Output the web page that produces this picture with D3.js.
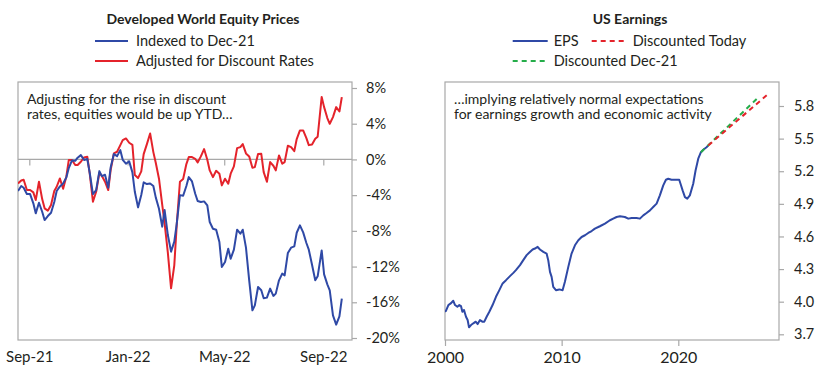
<!DOCTYPE html>
<html>
<head>
<meta charset="utf-8">
<script src="https://cdn.jsdelivr.net/npm/d3@7"></script>
<style>
  html, body { margin: 0; padding: 0; background: #fff; }
  svg { display: block; font-family: Lato, "Open Sans", sans-serif; }
  .axis text { fill: #231f20; }
</style>
</head>
<body>
<svg id="chart" width="840" height="377"></svg>
<script>
// ---------------- Left panel data: Developed World Equity Prices ----------------
const equityDates = [
  "2021-08-18","2021-08-22","2021-08-25","2021-08-29","2021-09-02","2021-09-06","2021-09-09","2021-09-13",
  "2021-09-17","2021-09-20","2021-09-24","2021-09-28","2021-10-02","2021-10-05","2021-10-09","2021-10-13",
  "2021-10-17","2021-10-20","2021-10-24","2021-10-28","2021-10-31","2021-11-04","2021-11-08","2021-11-12",
  "2021-11-15","2021-11-19","2021-11-23","2021-11-27","2021-11-30","2021-12-04","2021-12-08","2021-12-11",
  "2021-12-15","2021-12-19","2021-12-23","2021-12-26","2021-12-30","2022-01-03","2022-01-07","2022-01-10",
  "2022-01-14","2022-01-18","2022-01-21","2022-01-25","2022-01-29","2022-02-02","2022-02-05","2022-02-09",
  "2022-02-13","2022-02-16","2022-02-20","2022-02-24","2022-02-28","2022-03-03","2022-03-07","2022-03-11",
  "2022-03-15","2022-03-18","2022-03-22","2022-03-26","2022-03-29","2022-04-02","2022-04-06","2022-04-10",
  "2022-04-13","2022-04-17","2022-04-21","2022-04-25","2022-04-28","2022-05-02","2022-05-06","2022-05-09",
  "2022-05-13","2022-05-17","2022-05-21","2022-05-24","2022-05-28","2022-06-01","2022-06-05","2022-06-08",
  "2022-06-12","2022-06-16","2022-06-19","2022-06-23","2022-06-27","2022-07-01","2022-07-04","2022-07-08",
  "2022-07-12","2022-07-15","2022-07-19","2022-07-23","2022-07-27","2022-07-30","2022-08-03","2022-08-07",
  "2022-08-11","2022-08-14","2022-08-18","2022-08-22","2022-08-25","2022-08-30","2022-09-02","2022-09-06",
  "2022-09-09","2022-09-13","2022-09-17","2022-09-21","2022-09-24"
];
const indexedToDec21 = [
  -3.54,-2.98,-3.17,-3.88,-3.88,-4.92,-6.04,-4.85,
  -5.86,-6.79,-6.34,-5.97,-4.77,-3.54,-3.02,-2.69,
  -2.01,-0.97,-0.11,-0.15,0.19,0.48,-0.07,0.04,
  -1.49,-3.88,-3.43,-1.31,-1.87,-1.72,-3.17,-0.90,
  0.60,0.37,1.04,-0.04,-0.48,-0.22,-1.45,-3.62,
  -5.37,-3.99,-2.57,-2.76,-2.69,-2.98,-4.25,-5.52,
  -7.53,-5.67,-8.47,-10.33,-9.21,-7.24,-4.00,-4.07,
  -2.98,-1.98,-2.46,-3.84,-4.66,-4.77,-4.70,-5.15,
  -7.01,-7.76,-7.87,-9.25,-12.05,-11.49,-10.00,-11.12,
  -10.11,-7.87,-8.32,-7.87,-9.88,-13.54,-16.90,-16.34,
  -14.29,-14.66,-15.55,-15.48,-14.47,-15.29,-15.03,-13.54,
  -12.79,-12.98,-10.48,-9.88,-9.74,-8.21,-7.39,-8.17,
  -9.36,-10.11,-11.79,-13.54,-13.09,-10.20,-12.87,-13.99,
  -14.66,-17.46,-18.50,-17.57,-15.59
];
const adjustedForDiscount = [
  -2.69,-2.35,-2.28,-3.43,-3.43,-3.69,-4.55,-2.50,
  -4.44,-5.48,-5.74,-5.11,-3.54,-3.06,-2.13,-3.28,
  -1.90,-0.07,-0.07,-0.63,-0.63,-0.26,0.22,0.30,
  -1.57,-4.74,-3.62,-1.49,-1.83,-2.50,-3.43,-1.19,
  0.67,0.86,1.60,2.16,2.35,1.87,1.64,-1.75,
  -2.09,-1.34,0.60,1.72,2.91,0.82,-0.37,-2.16,
  -5.07,-7.16,-10.44,-14.44,-11.86,-7.39,-2.50,-2.20,
  -0.52,0.26,0.26,0.07,-0.34,0.34,1.16,-0.04,
  -1.23,-1.98,-1.27,-1.60,-2.91,-2.16,-2.72,-1.60,
  -0.78,1.27,1.38,1.72,0.67,0.34,-0.93,-0.86,
  0.60,0.63,-1.42,-2.50,-0.30,-0.71,-1.23,0.45,
  -0.48,-0.30,1.53,1.38,0.93,2.28,3.25,3.25,
  2.39,1.60,1.68,2.31,2.54,7.00,5.86,4.63,
  3.99,4.74,5.86,5.37,6.98
];
const leftYTicks = [8, 4, 0, -4, -8, -12, -16, -20];
const leftXTicks = ["2021-09-01", "2022-01-01", "2022-05-01", "2022-09-01"];

// ---------------- Right panel data: US Earnings ----------------
const epsYears = [
  2000.00,2000.09,2000.29,2000.49,2000.71,2000.86,2001.06,2001.23,2001.37,2001.49,2001.63,2001.80,2001.94,
  2002.06,2002.23,2002.43,2002.63,2002.80,2003.00,2003.20,2003.37,2003.57,2003.80,2004.08,2004.37,2004.66,
  2004.94,2005.23,2005.57,2005.86,2006.08,2006.43,2006.71,2007.00,2007.23,2007.51,2007.71,2007.94,2008.14,
  2008.43,2008.71,2008.85,2009.00,2009.14,2009.28,2009.51,2009.80,2010.08,2010.28,2010.57,2010.85,2011.14,
  2011.43,2011.71,2012.00,2012.28,2012.57,2012.85,2013.28,2013.71,2014.14,2014.42,2014.71,2015.00,2015.42,
  2015.71,2016.00,2016.42,2016.71,2017.00,2017.28,2017.57,2017.85,2018.14,2018.42,2018.71,2018.94,2019.14,
  2019.42,2019.71,2020.08,2020.19,2020.37,2020.57,2020.77,2020.99,2021.28,2021.48,2021.71,2021.94,2022.14,
  2022.42,2022.57
];
const epsValues = [
  3.907,3.917,3.969,3.984,4.008,3.969,3.953,3.969,3.960,3.907,3.923,3.861,3.831,
  3.764,3.785,3.801,3.816,3.794,3.831,3.816,3.816,3.861,3.907,3.969,4.045,4.106,
  4.168,4.198,4.235,4.265,4.290,4.336,4.382,4.428,4.452,4.480,4.489,4.504,4.480,
  4.458,4.443,4.382,4.274,4.228,4.137,4.106,4.113,4.106,4.183,4.320,4.443,4.519,
  4.565,4.595,4.611,4.632,4.650,4.672,4.694,4.718,4.749,4.764,4.779,4.785,4.779,
  4.764,4.770,4.770,4.764,4.794,4.816,4.840,4.871,4.902,4.978,5.070,5.122,5.131,
  5.122,5.122,5.122,5.085,5.024,4.962,4.948,4.978,5.085,5.207,5.315,5.375,5.397,
  5.421,5.437
];
const discountedTodayYears = [2022.57, 2027.71];
const discountedTodayValues = [5.437, 5.911];
const discountedDec21Years = [2021.94, 2026.93];
const discountedDec21Values = [5.375, 5.886];
const rightYTicks = [3.7, 4.0, 4.3, 4.6, 4.9, 5.2, 5.5, 5.8];
const rightXTicks = [2000, 2010, 2020];

// ---------------- Styles ----------------
const BLUE = "#2f49a6", RED = "#e4232b", GREEN = "#25ad4a";
const FRAME = "#a8a8a8", TEXT = "#231f20";

const svg = d3.select("#chart");
const parse = d3.utcParse("%Y-%m-%d");

// ================= LEFT PANEL =================
const L = { x0: 18, x1: 352, y0: 82, y1: 340 };
const xL = d3.scaleUtc()
  .domain([parse("2021-09-01"), parse("2022-09-01")])
  .range([29.3, 323.3]);
const yL = d3.scaleLinear().domain([-20, 8]).range([338, 88]);

svg.append("clipPath").attr("id", "clipL").append("rect")
  .attr("x", L.x0).attr("y", L.y0).attr("width", L.x1 - L.x0).attr("height", L.y1 - L.y0);

svg.append("rect").attr("x", L.x0).attr("y", L.y0)
  .attr("width", L.x1 - L.x0).attr("height", L.y1 - L.y0)
  .attr("fill", "none").attr("stroke", FRAME).attr("stroke-width", 1.2);

// zero line
svg.append("line").attr("x1", L.x0).attr("x2", L.x1)
  .attr("y1", yL(0)).attr("y2", yL(0))
  .attr("stroke", FRAME).attr("stroke-width", 1.2);

// x ticks on zero line
const xTickAxisL = d3.axisBottom(xL).tickValues(leftXTicks.map(parse)).tickSize(6).tickFormat("");
const gxt = svg.append("g").attr("class", "axis").attr("transform", `translate(0,${yL(0)})`).call(xTickAxisL);
gxt.select(".domain").remove();
gxt.selectAll("line").attr("stroke", FRAME).attr("stroke-width", 1.2);

// x labels at bottom
const xLabAxisL = d3.axisBottom(xL).tickValues(leftXTicks.map(parse)).tickSize(0).tickPadding(11)
  .tickFormat(d3.utcFormat("%b-%y"));
const gxl = svg.append("g").attr("class", "axis").attr("transform", `translate(0,${L.y1})`).call(xLabAxisL);
gxl.select(".domain").remove();
gxl.selectAll("text").attr("font-size", 15).attr("font-family", "Lato").attr("fill", TEXT);

// y axis right
const yAxL = d3.axisRight(yL).tickValues(leftYTicks).tickSize(5).tickPadding(9).tickFormat(d => d + "%");
const gyl = svg.append("g").attr("class", "axis").attr("transform", `translate(${L.x1},0)`).call(yAxL);
gyl.select(".domain").remove();
gyl.selectAll("line").attr("stroke", FRAME).attr("stroke-width", 1.2);
gyl.selectAll("text").attr("font-size", 14.5).attr("font-family", "Lato").attr("fill", TEXT);

const lineL = (vals) => d3.line()
  .x((d, i) => xL(parse(equityDates[i])))
  .y(d => yL(d))(vals);

const gLinesL = svg.append("g").attr("clip-path", "url(#clipL)");
gLinesL.append("path").attr("d", lineL(adjustedForDiscount))
  .attr("fill", "none").attr("stroke", RED).attr("stroke-width", 2).attr("stroke-linejoin", "round");
gLinesL.append("path").attr("d", lineL(indexedToDec21))
  .attr("fill", "none").attr("stroke", BLUE).attr("stroke-width", 2).attr("stroke-linejoin", "round");

// annotation
const annL = svg.append("text").attr("font-size", 14).attr("fill", TEXT).attr("font-family", "Lato");
annL.append("tspan").attr("x", 27).attr("y", 104).text("Adjusting for the rise in discount");
annL.append("tspan").attr("x", 27).attr("y", 119).text("rates, equities would be up YTD…");

// title + legend
svg.append("text").attr("x", 203).attr("y", 24).attr("text-anchor", "middle")
  .attr("font-size", 14).attr("font-weight", "bold").attr("fill", TEXT).text("Developed World Equity Prices");
const legL = [
  { label: "Indexed to Dec-21", color: BLUE, y: 41 },
  { label: "Adjusted for Discount Rates", color: RED, y: 61 }
];
legL.forEach(l => {
  svg.append("line").attr("x1", 95).attr("x2", 128).attr("y1", l.y).attr("y2", l.y)
    .attr("stroke", l.color).attr("stroke-width", 2);
  svg.append("text").attr("x", 136).attr("y", l.y + 4.5).attr("font-size", 14.5)
    .attr("fill", TEXT).text(l.label);
});

// ================= RIGHT PANEL =================
const R = { x0: 445, x1: 779, y0: 82, y1: 340 };
const xR = d3.scaleLinear().domain([2000, 2020]).range([445, 678.3]);
const yR = d3.scaleLinear().domain([3.7, 5.8]).range([334.3, 106]);

svg.append("clipPath").attr("id", "clipR").append("rect")
  .attr("x", R.x0).attr("y", R.y0).attr("width", R.x1 - R.x0).attr("height", R.y1 - R.y0);

svg.append("rect").attr("x", R.x0).attr("y", R.y0)
  .attr("width", R.x1 - R.x0).attr("height", R.y1 - R.y0)
  .attr("fill", "none").attr("stroke", FRAME).attr("stroke-width", 1.2);

const xAxR = d3.axisBottom(xR).tickValues(rightXTicks).tickSize(6).tickPadding(6).tickFormat(d3.format("d"));
const gxr = svg.append("g").attr("class", "axis").attr("transform", `translate(0,${R.y1})`).call(xAxR);
gxr.select(".domain").remove();
gxr.selectAll("line").attr("stroke", FRAME).attr("stroke-width", 1.2);
gxr.selectAll("text").attr("font-size", 16).attr("font-family", "Lato").attr("fill", TEXT);

const yAxR = d3.axisRight(yR).tickValues(rightYTicks).tickSize(5).tickPadding(10).tickFormat(d3.format(".1f"));
const gyr = svg.append("g").attr("class", "axis").attr("transform", `translate(${R.x1},0)`).call(yAxR);
gyr.select(".domain").remove();
gyr.selectAll("line").attr("stroke", FRAME).attr("stroke-width", 1.2);
gyr.selectAll("text").attr("font-size", 14.5).attr("font-family", "Lato").attr("fill", TEXT);

const lineR = (xs, ys) => d3.line().x((d, i) => xR(xs[i])).y(d => yR(d))(ys);
const gLinesR = svg.append("g").attr("clip-path", "url(#clipR)");
gLinesR.append("path").attr("d", lineR(epsYears, epsValues))
  .attr("fill", "none").attr("stroke", BLUE).attr("stroke-width", 2).attr("stroke-linejoin", "round");
gLinesR.append("path").attr("d", lineR(discountedDec21Years, discountedDec21Values))
  .attr("fill", "none").attr("stroke", GREEN).attr("stroke-width", 2).attr("stroke-dasharray", "5,4");
gLinesR.append("path").attr("d", lineR(discountedTodayYears, discountedTodayValues))
  .attr("fill", "none").attr("stroke", RED).attr("stroke-width", 2).attr("stroke-dasharray", "5,4");

const annR = svg.append("text").attr("font-size", 14).attr("fill", TEXT).attr("font-family", "Lato");
annR.append("tspan").attr("x", 454).attr("y", 104).text("…implying relatively normal expectations");
annR.append("tspan").attr("x", 454).attr("y", 118.5).text("for earnings growth and economic activity");

svg.append("text").attr("x", 630).attr("y", 24).attr("text-anchor", "middle")
  .attr("font-size", 14).attr("font-weight", "bold").attr("fill", TEXT).text("US Earnings");
const legR = [
  { label: "EPS", color: BLUE, x: 512.7, y: 41, dash: null },
  { label: "Discounted Today", color: RED, x: 591.7, y: 41, dash: "5,4" },
  { label: "Discounted Dec-21", color: GREEN, x: 512.7, y: 61, dash: "5,4" }
];
legR.forEach(l => {
  svg.append("line").attr("x1", l.x).attr("x2", l.x + 35).attr("y1", l.y).attr("y2", l.y)
    .attr("stroke", l.color).attr("stroke-width", 2).attr("stroke-dasharray", l.dash);
  svg.append("text").attr("x", l.x + 41).attr("y", l.y + 4.5).attr("font-size", 14.5)
    .attr("fill", TEXT).text(l.label);
});
</script>
</body>
</html>
